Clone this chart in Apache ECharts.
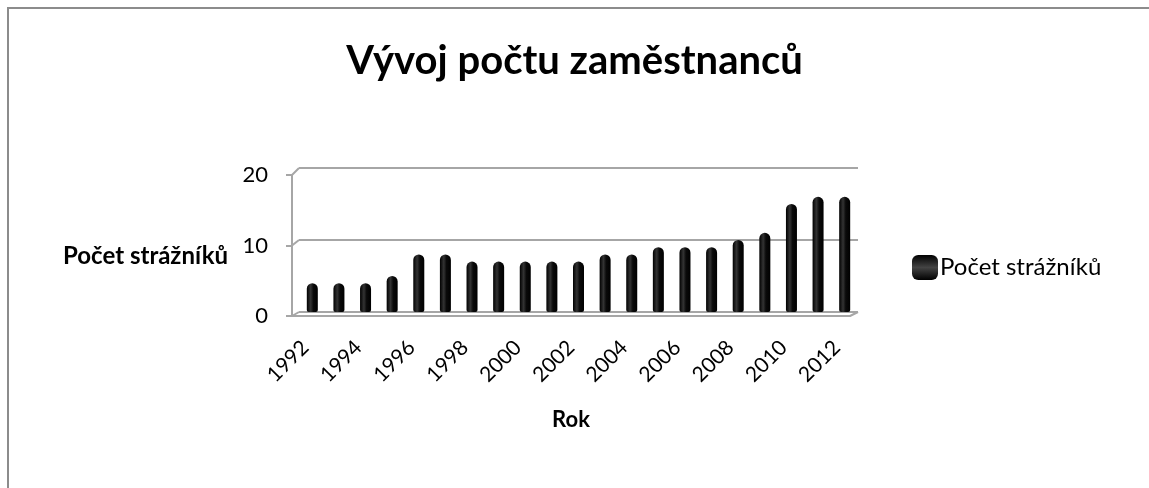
<!DOCTYPE html>
<html>
<head>
<meta charset="utf-8">
<script src="https://cdn.jsdelivr.net/npm/echarts@6/dist/echarts.min.js"></script>
<style>
  html, body { margin: 0; padding: 0; background: #fff; }
  #chart { width: 1149px; height: 488px; }
</style>
</head>
<body>
<div id="chart"></div>
<script>
const years = ['1992','1993','1994','1995','1996','1997','1998','1999','2000','2001','2002',
  '2003','2004','2005','2006','2007','2008','2009','2010','2011','2012']
const guards = [4, 4, 4, 5, 8, 8, 7, 7, 7, 7, 7, 8, 8, 9, 9, 9, 10, 11, 15, 16, 16]
const yTicks = [0, 10, 20]

const font = 'Lato, "Open Sans", sans-serif'
const gray = '#a6a6a6'

// front plane (axes + labels) and back plane (walls + bars), shifted for the 3D look
const front = {left: 292, top: 175, width: 558, height: 141}
const back = {left: 299, top: 168, width: 559, height: 144}

const cylinder = new echarts.graphic.LinearGradient(0, 0, 1, 0, [
  {offset: 0, color: '#000'},
  {offset: 0.35, color: '#333'},
  {offset: 0.6, color: '#0a0a0a'},
  {offset: 1, color: '#000'}
])
const legendIcon = new echarts.graphic.LinearGradient(0, 0, 0, 1, [
  {offset: 0, color: '#000'},
  {offset: 0.5, color: '#444'},
  {offset: 1, color: '#000'}
])

// little slanted joins between the front axis and the back wall
const joins = yTicks.map(v => {
  const yf = front.top + front.height * (1 - v / 20)
  const yb = back.top + back.height * (1 - v / 20)
  return {type: 'line', shape: {x1: front.left, y1: yf, x2: back.left, y2: yb},
    style: {stroke: gray, lineWidth: 2}, z: 5}
})
joins.push({type: 'line',
  shape: {x1: front.left + front.width, y1: front.top + front.height,
    x2: back.left + back.width, y2: back.top + back.height},
  style: {stroke: gray, lineWidth: 2}, z: 5})

let myChart = echarts.init(document.getElementById('chart'))
myChart.setOption({
  animation: false,
  title: {
    text: 'Vývoj počtu zaměstnanců',
    left: 'center',
    top: 36,
    textStyle: {fontFamily: font, fontSize: 40, fontWeight: 'bold', color: '#000'}
  },
  legend: {
    left: 907,
    top: 250,
    itemWidth: 26,
    itemHeight: 25,
    icon: 'roundRect',
    itemStyle: {color: legendIcon},
    textStyle: {fontFamily: font, fontSize: 24, color: '#000', padding: [0, 0, 0, -3]},
    data: ['Počet strážníků']
  },
  graphic: [
    {type: 'rect', shape: {x: 8, y: 8, width: 1300, height: 700},
      style: {fill: 'none', stroke: '#8c8c8c', lineWidth: 2}, silent: true},
    {type: 'text', right: 1149 - 228, top: 244,
      style: {text: 'Počet strážníků', font: 'bold 24px ' + font, fill: '#000'}}
  ].concat(joins),
  grid: [
    Object.assign({containLabel: false}, front),
    Object.assign({containLabel: false}, back)
  ],
  xAxis: [
    {
      type: 'category', gridIndex: 0, data: years,
      boundaryGap: true,
      name: 'Rok', nameLocation: 'middle', nameGap: 93,
      nameTextStyle: {fontFamily: font, fontSize: 22, fontWeight: 'bold', color: '#000'},
      axisLine: {lineStyle: {color: gray, width: 2}},
      axisTick: {show: false},
      axisLabel: {rotate: 45, interval: 1, margin: 28, fontFamily: font, fontSize: 21, color: '#000'}
    },
    {
      type: 'category', gridIndex: 1, data: years,
      axisLine: {show: false}, axisTick: {show: false}, axisLabel: {show: false}
    }
  ],
  yAxis: [
    {
      type: 'value', gridIndex: 0, min: 0, max: 20, interval: 10,
      axisLine: {show: true, lineStyle: {color: gray, width: 2}},
      axisTick: {show: true, length: 6, lineStyle: {color: gray, width: 2}},
      axisLabel: {margin: 24, fontFamily: font, fontSize: 22, color: '#000'},
      splitLine: {show: false}
    },
    {
      type: 'value', gridIndex: 1, min: 0, max: 20, interval: 10,
      axisLine: {show: false}, axisTick: {show: false}, axisLabel: {show: false},
      splitLine: {show: true, lineStyle: {color: gray, width: 2}}
    }
  ],
  series: [{
    name: 'Počet strážníků',
    type: 'bar',
    xAxisIndex: 1,
    yAxisIndex: 1,
    barWidth: 11,
    data: guards,
    itemStyle: {color: cylinder, borderRadius: [6, 6, 2, 2]}
  }]
})
</script>
</body>
</html>
